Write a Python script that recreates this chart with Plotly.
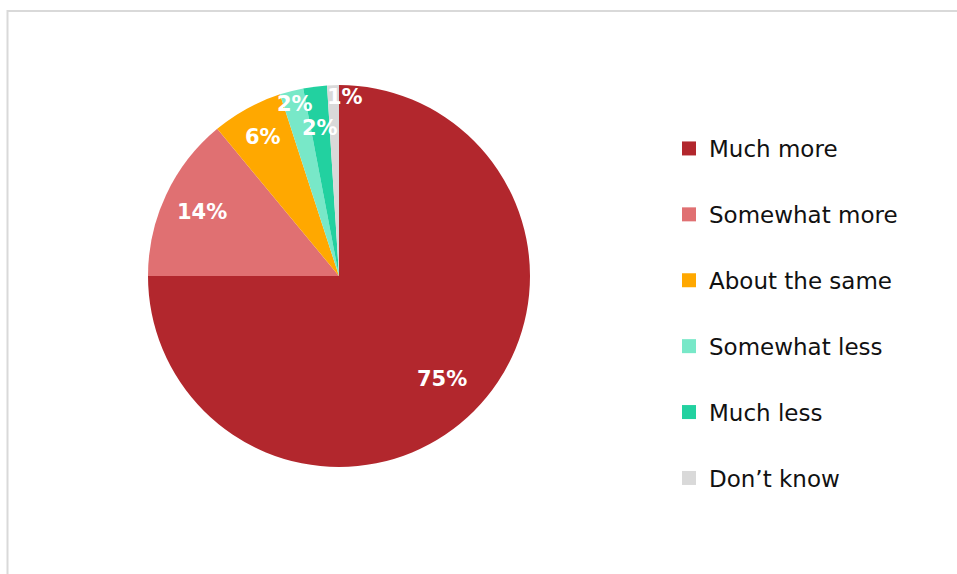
import math
import plotly.graph_objects as go

# Survey responses
categories = ["Much more", "Somewhat more", "About the same", "Somewhat less", "Much less", "Don’t know"]
values = [75, 14, 6, 2, 2, 1]

colors = ["#B2272D", "#E07072", "#FFA800", "#78E8C8", "#22D1A0", "#D9D9D9"]

W, H = 957, 574
CX, CY, R = 339, 276, 191  # pie centre and radius in pixels

# radial placement of each value label (fraction of radius) and small pixel nudges
label_radius = [0.76, 0.79, 0.83, 0.93, 0.78, 0.94]
label_nudge_x = [0, 0, 0, 0, 0, 12]

fig = go.Figure()

fig.add_trace(go.Pie(
    labels=categories,
    values=values,
    sort=False,
    direction="clockwise",
    rotation=0,
    marker=dict(colors=colors, line=dict(width=0)),
    textinfo="none",
    hoverinfo="label+percent",
    showlegend=False,
    domain=dict(x=[(CX - R) / W, (CX + R) / W], y=[1 - (CY + R) / H, 1 - (CY - R) / H]),
))

# legend entries, one group per category so the rows can be spaced out
for name, col in zip(categories, colors):
    fig.add_trace(go.Scatter(
        x=[None], y=[None], mode="markers", name=name, legendgroup=name,
        marker=dict(symbol="square", size=14, color=col),
        hoverinfo="skip",
    ))

# value labels, placed at the middle angle of each slice
total = sum(values)
start = 0.0
annotations = []
for i, v in enumerate(values):
    mid = (start + v / 2) / total * 2 * math.pi
    start += v
    px = CX + label_radius[i] * R * math.sin(mid) + label_nudge_x[i]
    py = CY - label_radius[i] * R * math.cos(mid)
    annotations.append(dict(
        x=px / W, y=1 - py / H, xref="paper", yref="paper",
        text=f"{round(v / total * 100)}%", showarrow=False,
        font=dict(family="DejaVu Sans", size=21, color="white", weight="bold"),
        xanchor="center", yanchor="middle",
    ))

fig.update_layout(
    width=W, height=H,
    margin=dict(l=0, r=0, t=0, b=0),
    paper_bgcolor="white",
    plot_bgcolor="white",
    xaxis=dict(visible=False),
    yaxis=dict(visible=False),
    annotations=annotations,
    showlegend=True,
    legend=dict(
        x=669 / W, y=1 - 127 / H, xanchor="left", yanchor="top",
        font=dict(family="DejaVu Sans", size=23, color="#111111"),
        tracegroupgap=33,
        itemwidth=30,
        bgcolor="rgba(0,0,0,0)",
    ),
    shapes=[dict(
        type="rect", xref="paper", yref="paper",
        x0=7.5 / W, x1=1.02, y0=-0.02, y1=1 - 11 / H,
        line=dict(color="#D9D9D9", width=2), fillcolor="rgba(0,0,0,0)", layer="below",
    )],
)

fig.write_html("out.html")
